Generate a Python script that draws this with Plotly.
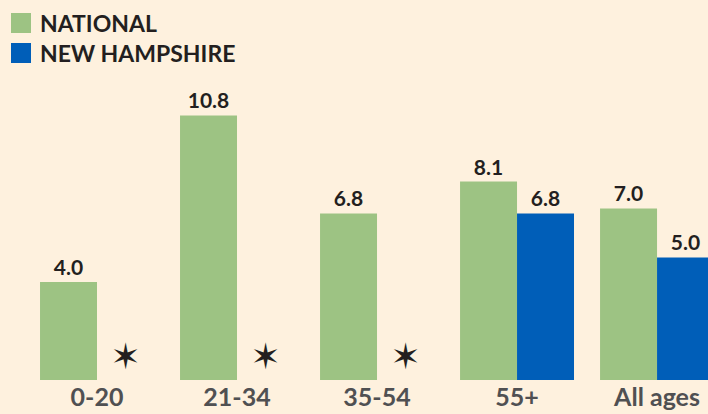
import plotly.graph_objects as go

categories = ["0-20", "21-34", "35-54", "55+", "All ages"]
national = [4.0, 10.8, 6.8, 8.1, 7.0]
new_hampshire = [None, None, None, 6.8, 5.0]
series_names = ["NATIONAL", "NEW HAMPSHIRE"]

BG = "#FEF1DE"
GREEN = "#9DC383"
BLUE = "#005EB8"
DARK = "#231F20"
GRAY = "#505052"
FONT = "Lato"
BAR_W = 0.407
STAR_Y = 0.8

idx = list(range(len(categories)))


def labels(vals):
    return ["" if v is None else f"{v:.1f}" for v in vals]


fig = go.Figure()
for vals, name, col in zip([national, new_hampshire], series_names, [GREEN, BLUE]):
    fig.add_trace(go.Bar(
        x=idx, y=vals, name=name, marker_color=col,
        text=labels(vals), textposition="outside",
        textfont=dict(family=FONT, size=21, color=DARK, weight="bold"),
        showlegend=False, hoverinfo="skip",
    ))
missing = [i for i, v in zip(idx, new_hampshire) if v is None]
fig.add_trace(go.Scatter(
    x=[i + BAR_W / 2 for i in missing], y=[STAR_Y] * len(missing),
    mode="text", text=["\u2736"] * len(missing),
    textfont=dict(family="DejaVu Sans", size=36, color=DARK),
    showlegend=False, hoverinfo="skip",
))

fig.update_layout(
    template="none",
    width=708, height=414, autosize=False,
    margin=dict(l=27, r=0, t=60, b=34, pad=0),
    paper_bgcolor=BG, plot_bgcolor=BG,
    barmode="group", bargap=0.186, bargroupgap=0,
    showlegend=False,
    xaxis=dict(
        range=[-0.5, 4.364], tickvals=idx, ticktext=categories,
        showgrid=False, zeroline=False, showline=False, ticks="",
        automargin=False,
        tickfont=dict(family=FONT, size=25, color=GRAY, weight="bold"),
    ),
    yaxis=dict(range=[0, 13.06], visible=False, automargin=False),
)

for k, (name, col) in enumerate(zip(series_names, [GREEN, BLUE])):
    top = 13 + 30 * k
    fig.add_shape(
        type="rect", xref="paper", yref="paper",
        xsizemode="pixel", ysizemode="pixel", xanchor=0, yanchor=1,
        x0=11 - 27, x1=31 - 27, y0=60 - (top + 20), y1=60 - top,
        fillcolor=col, line_width=0,
    )
    fig.add_annotation(
        x=0, y=1, xref="paper", yref="paper", xanchor="left", yanchor="middle",
        xshift=38 - 27, yshift=60 - (top + 10), showarrow=False, text=name,
        font=dict(family=FONT, size=23, color=DARK, weight="bold"),
    )

fig.write_html(
    "out.html",
    config={"displayModeBar": False},
    post_script=(
        "document.body.style.margin='0';"
        "document.body.style.overflow='hidden';"
        "Plotly.redraw(document.getElementById('{plot_id}'));"
    ),
)
